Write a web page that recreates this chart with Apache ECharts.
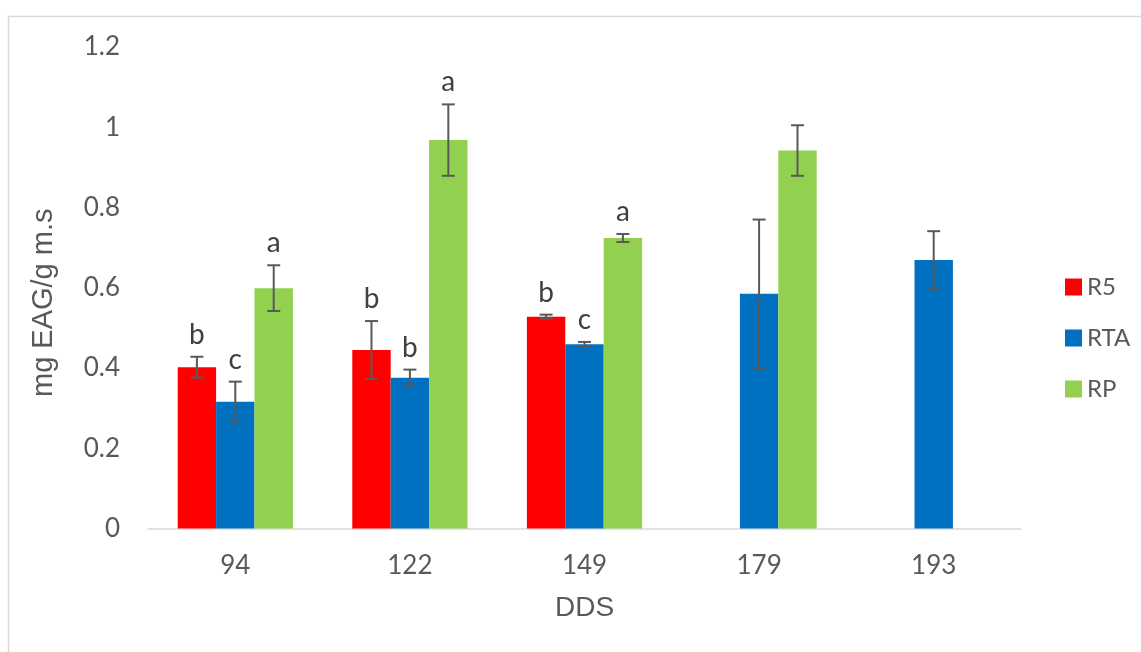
<!DOCTYPE html>
<html>
<head>
<meta charset="utf-8">
<script src="https://cdn.jsdelivr.net/npm/echarts@6/dist/echarts.min.js"></script>
<style>
  html, body { margin: 0; padding: 0; background: #fff; }
  #chart { width: 1141px; height: 652px; }
</style>
</head>
<body>
<div id="chart"></div>
<script>
// categories (DDS)
const days = ['94', '122', '149', '179', '193'];

// series values and standard errors
const r5 = [0.402, 0.445, 0.528, null, null];
const r5Err = [0.026, 0.072, 0.005, null, null];
const rta = [0.316, 0.376, 0.459, 0.585, 0.669];
const rtaErr = [0.050, 0.020, 0.006, 0.185, 0.072];
const rp = [0.599, 0.968, 0.724, 0.942, null];
const rpErr = [0.057, 0.089, 0.010, 0.063, null];

// significance letters
const r5Letters = ['b', 'b', 'b', '', ''];
const rtaLetters = ['c', 'b', 'c', '', ''];
const rpLetters = ['a', 'a', 'a', '', ''];

const colors = ['#FF0000', '#0070C0', '#92D050'];
const gapRatio = 0.34;
const tickFont = 'Lato, "Open Sans", sans-serif';
const titleFont = '"Liberation Sans", Arial, sans-serif';

const chart = echarts.init(document.getElementById('chart'));

// error bar + letter for one series (idx = position inside group)
function errSeries(vals, errs, letters, idx) {
  const data = vals.map((v, i) => [i, v, errs[i], letters[i]]);
  return {
    type: 'custom',
    silent: true,
    z: 10,
    data: data,
    renderItem: function (params, api) {
      const v = api.value(1);
      const e = api.value(2);
      if (v == null || isNaN(v) || e == null || isNaN(e)) return;
      const band = api.size([1, 0])[0];
      const bw = band * (1 - gapRatio) / 3;
      const x = api.coord([api.value(0), v])[0] + (idx - 1) * bw;
      const yHi = api.coord([0, v + e])[1];
      const yLo = api.coord([0, v - e])[1];
      const cap = 6.5;
      const st = { stroke: '#595959', lineWidth: 2 };
      const kids = [
        { type: 'line', shape: { x1: x, y1: yHi, x2: x, y2: yLo }, style: st },
        { type: 'line', shape: { x1: x - cap, y1: yHi, x2: x + cap, y2: yHi }, style: st },
        { type: 'line', shape: { x1: x - cap, y1: yLo, x2: x + cap, y2: yLo }, style: st }
      ];
      const letter = data[params.dataIndex][3];
      if (letter) {
        kids.push({
          type: 'text',
          style: {
            text: letter, x: x, y: yHi - 8,
            align: 'center', verticalAlign: 'bottom',
            fill: '#404040', font: '28px ' + tickFont
          }
        });
      }
      return { type: 'group', children: kids };
    }
  };
}

function barSeries(name, vals, color) {
  return {
    name: name,
    type: 'bar',
    data: vals,
    barGap: '0%',
    barCategoryGap: (gapRatio * 100) + '%',
    itemStyle: { color: color }
  };
}

const option = {
  animation: false,
  color: colors,
  graphic: [{
    type: 'rect',
    shape: { x: 8.5, y: 16.5, width: 1140, height: 640 },
    style: { fill: 'none', stroke: '#D9D9D9', lineWidth: 1.5 },
    silent: true
  }],
  grid: { left: 148, right: 120, top: 47, bottom: 123.5 },
  legend: {
    orient: 'vertical',
    left: 1060,
    top: 269,
    itemWidth: 17,
    itemHeight: 17,
    itemGap: 25,
    icon: 'rect',
    data: ['R5', 'RTA', 'RP'],
    textStyle: { color: '#595959', fontSize: 24, fontFamily: tickFont, lineHeight: 26, padding: [0, 0, 0, 0] }
  },
  xAxis: {
    type: 'category',
    data: days,
    name: 'DDS',
    nameLocation: 'middle',
    nameGap: 66,
    nameTextStyle: { color: '#595959', fontSize: 28, fontFamily: titleFont },
    axisLine: { lineStyle: { color: '#D9D9D9', width: 1.5 } },
    axisTick: { show: false },
    axisLabel: { color: '#595959', fontSize: 26, fontFamily: tickFont, margin: 24 }
  },
  yAxis: {
    type: 'value',
    min: 0,
    max: 1.2,
    interval: 0.2,
    name: 'mg EAG/g m.s',
    nameLocation: 'middle',
    nameGap: 90,
    nameTextStyle: { color: '#595959', fontSize: 29, fontFamily: titleFont, padding: [0, 30, 0, 0] },
    axisLine: { show: false },
    axisTick: { show: false },
    splitLine: { show: false },
    axisLabel: {
      color: '#595959', fontSize: 26, fontFamily: tickFont, margin: 28,
      formatter: v => String(Math.round(v * 10) / 10)
    }
  },
  series: [
    barSeries('R5', r5, colors[0]),
    barSeries('RTA', rta, colors[1]),
    barSeries('RP', rp, colors[2]),
    errSeries(r5, r5Err, r5Letters, 0),
    errSeries(rta, rtaErr, rtaLetters, 1),
    errSeries(rp, rpErr, rpLetters, 2)
  ]
};

chart.setOption(option);
window.addEventListener('resize', () => chart.resize());
</script>
</body>
</html>
